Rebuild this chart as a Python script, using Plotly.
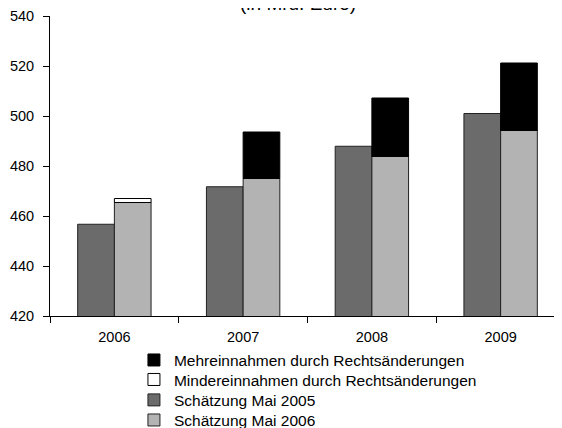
import plotly.graph_objects as go

years = ["2006", "2007", "2008", "2009"]
schaetzung_2005 = [456.7, 471.7, 487.9, 501.0]
schaetzung_2006 = [465.4, 475.0, 483.9, 494.3]
mehreinnahmen = [0.0, 18.6, 23.3, 26.9]
mindereinnahmen = [1.6, 0.0, 0.0, 0.0]

fam = "Liberation Sans, Arial, sans-serif"
font = dict(family=fam, size=14.5, color="#000")
legfont = dict(family=fam, size=15.5, color="#000")

fig = go.Figure()
fig.add_trace(go.Bar(
    x=years, y=schaetzung_2005, name="Schätzung Mai 2005", offsetgroup="a",
    marker=dict(color="#6b6b6b", line=dict(color="#222", width=1)), legend="legend3"))
fig.add_trace(go.Bar(
    x=years, y=schaetzung_2006, name="Schätzung Mai 2006", offsetgroup="b",
    marker=dict(color="#b3b3b3", line=dict(color="#222", width=1)), legend="legend4"))
fig.add_trace(go.Bar(
    x=years, y=mehreinnahmen, base=schaetzung_2006, name="Mehreinnahmen durch Rechtsänderungen",
    offsetgroup="b", marker=dict(color="#000", line=dict(color="#000", width=1)), legend="legend"))
fig.add_trace(go.Bar(
    x=years, y=mindereinnahmen, base=schaetzung_2006, name="Mindereinnahmen durch Rechtsänderungen",
    offsetgroup="b", marker=dict(color="#fff", line=dict(color="#000", width=1)), legend="legend2"))


def leg(y):
    return dict(x=0.163, y=y, xanchor="left", yanchor="middle", font=legfont,
                itemwidth=30, bgcolor="rgba(0,0,0,0)")


fig.update_layout(
    width=562, height=428,
    margin=dict(l=42, r=5, t=7.7, b=120.3, autoexpand=False),
    barmode="group", bargap=0.43, bargroupgap=0,
    plot_bgcolor="#fff", paper_bgcolor="#fff",
    font=font,
    showlegend=True,
    legend=leg(-0.148), legend2=leg(-0.213), legend3=leg(-0.281), legend4=leg(-0.348),
    xaxis=dict(range=[-0.5, 3.5], showline=True, linecolor="#000", linewidth=1,
               ticks="outside", tickson="boundaries", ticklen=6, tickcolor="#000",
               showgrid=False, tickfont=font, automargin=False, ticklabelstandoff=8,
               tickangle=0),
    yaxis=dict(range=[420, 540], dtick=20, showline=True, linecolor="#000", linewidth=1,
               ticks="outside", ticklen=6, tickcolor="#000", showgrid=False,
               zeroline=False, tickfont=font, automargin=False, ticklabelstandoff=6),
    annotations=[dict(text="(in Mrd. Euro)", xref="paper", yref="paper",
                      x=0.4816, y=1.0, yanchor="middle", xanchor="center",
                      yshift=12.3, showarrow=False,
                      font=dict(family=fam, size=19, color="#000"))],
)

fig.write_html("out.html")
